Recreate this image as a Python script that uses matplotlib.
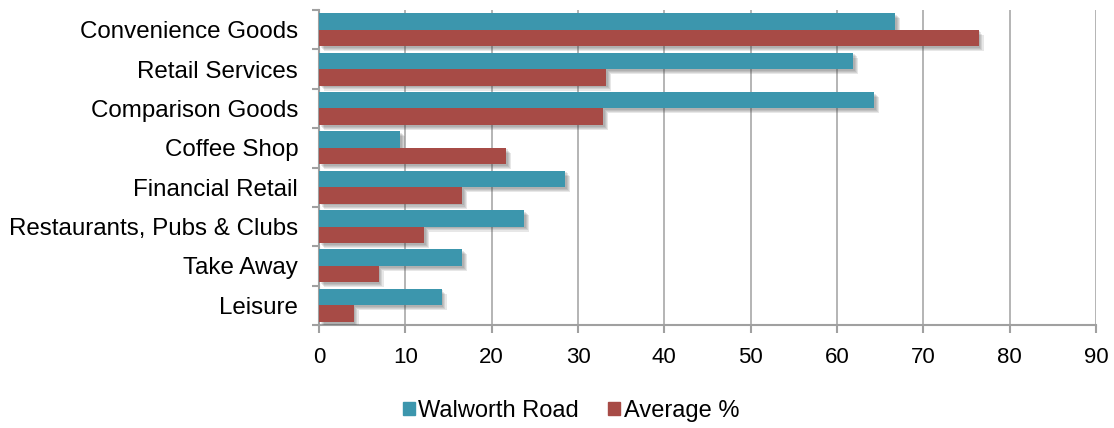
import numpy as np
import matplotlib
matplotlib.use("Agg")
import matplotlib.pyplot as plt
import matplotlib.patheffects as pe
from matplotlib.patches import Patch

# values
categories = ["Convenience Goods", "Retail Services", "Comparison Goods", "Coffee Shop",
              "Financial Retail", "Restaurants, Pubs & Clubs", "Take Away", "Leisure"]
walworth = [66.7, 61.9, 64.3, 9.4, 28.5, 23.8, 16.6, 14.2]
average = [76.4, 33.3, 32.9, 21.7, 16.6, 12.2, 6.9, 4.0]
x_ticks = [0, 10, 20, 30, 40, 50, 60, 70, 80, 90]

plt.rcParams['font.family'] = ['Liberation Sans', 'DejaVu Sans']

blue = "#3C96AD"
red = "#A74B46"
gray = "#A0A0A0"

fig = plt.figure(figsize=(11.14, 4.28), dpi=100)
ax = fig.add_axes([319 / 1114, 1 - 325 / 428, (1096 - 319) / 1114, (325 - 10) / 428])

y = np.arange(len(categories))
h = 0.42
# soft drop shadow: a few stacked offsets
shadow = [pe.SimplePatchShadow(offset=(o, -o), shadow_rgbFace="#404040", alpha=0.12)
          for o in (1.2, 2.0, 2.8, 3.6)] + [pe.Normal()]

ax.barh(y - h / 2, walworth, height=h, color=blue, path_effects=shadow, zorder=3)
ax.barh(y + h / 2, average, height=h, color=red, path_effects=shadow, zorder=3)

ax.set_xlim(0, 90)
ax.set_ylim(len(categories) - 0.5, -0.5)
ax.set_xticks(x_ticks)
ax.set_xticklabels([str(t) for t in x_ticks], fontsize=16)
ax.set_yticks(y)
ax.set_yticklabels(categories, fontsize=17.4)
ax.set_yticks(np.arange(-0.5, len(categories)), minor=True)

ax.tick_params(axis="y", which="major", length=0, pad=15)
ax.tick_params(axis="y", which="minor", length=5, width=1.5, color=gray)
ax.tick_params(axis="x", length=6, width=1.5, color=gray, pad=10)

ax.grid(axis="x", color=gray, linewidth=1.1)
ax.set_axisbelow(True)
for s in ["top", "right"]:
    ax.spines[s].set_visible(False)
for s in ["left", "bottom"]:
    ax.spines[s].set_color(gray)
    ax.spines[s].set_linewidth(1.5)

handles = [Patch(color=blue, label="Walworth Road"), Patch(color=red, label="Average %")]
fig.legend(handles=handles, loc="center", bbox_to_anchor=(571 / 1114, 1 - 411 / 428), ncol=2,
           frameon=False, fontsize=17, handlelength=0.5, handleheight=0.5, handletextpad=0.15,
           columnspacing=1.25)

fig.savefig("out.png", dpi=100)
